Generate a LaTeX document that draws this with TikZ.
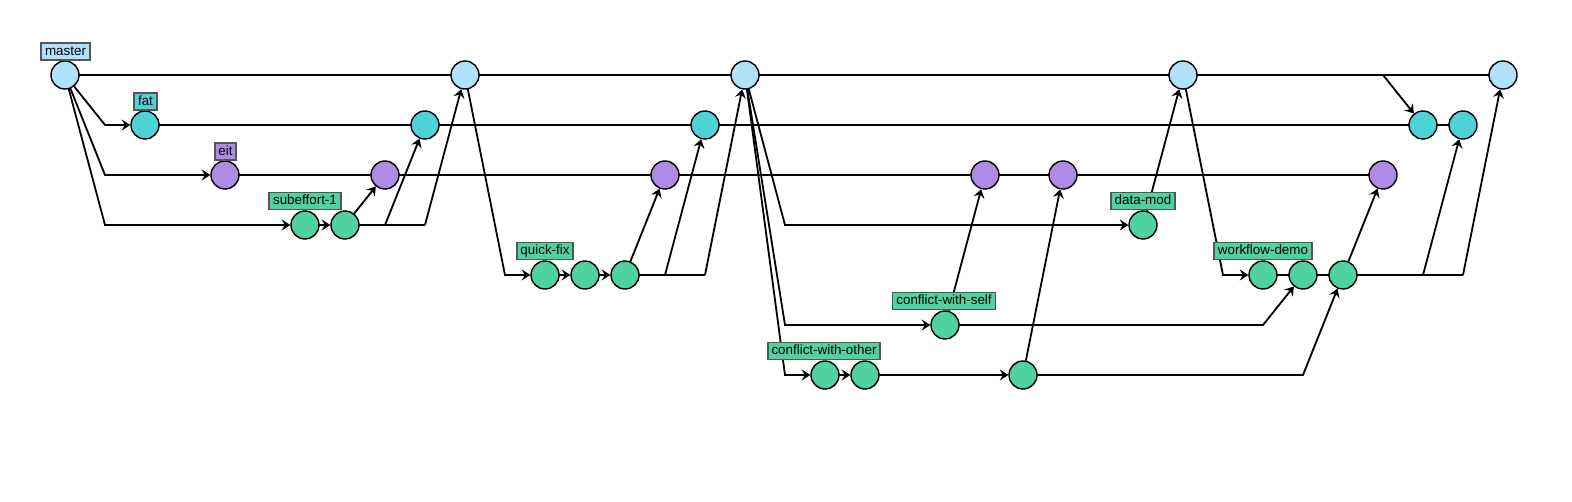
\documentclass[tikz,border=0pt]{standalone}
\usepackage{fontspec}
\setmainfont{Liberation Sans}
\usetikzlibrary{arrows.meta}
\pgfdeclarelayer{bg}
\pgfsetlayers{bg,main}
\definecolor{cmaster}{HTML}{B2E2FA}
\definecolor{cfat}{HTML}{4DD3D6}
\definecolor{ceit}{HTML}{AE8CE6}
\definecolor{cgreen}{HTML}{4FD1A0}
\definecolor{cframe}{HTML}{555555}
\tikzset{
  commit/.style={circle,draw=black,line width=1.4pt,minimum size=28pt,inner sep=0pt},
  blabel/.style={rectangle,draw=cframe,line width=1.8pt,inner xsep=3.8pt,inner ysep=0pt,minimum height=17pt,font=\fontsize{13.4pt}{15pt}\selectfont,text height=9.8pt,text depth=2.6pt},
  link/.style={draw=black,line width=1.8pt},
  mlink/.style={link,-{Stealth[length=8.5pt,width=11pt,inset=3pt]}},
}
\begin{document}
\begin{tikzpicture}[x=1pt,y=-1pt]
\useasboundingbox (0,0) rectangle (1572,502);
% master
\node[commit,fill=cmaster] (m0) at (65,75) {};
\node[commit,fill=cmaster] (m1) at (465,75) {};
\node[commit,fill=cmaster] (m2) at (745,75) {};
\node[commit,fill=cmaster] (m3) at (1183,75) {};
\node[commit,fill=cmaster] (m4) at (1503,75) {};
% fat
\node[commit,fill=cfat] (f0) at (145,125) {};
\node[commit,fill=cfat] (f1) at (425,125) {};
\node[commit,fill=cfat] (f2) at (705,125) {};
\node[commit,fill=cfat] (f3) at (1423,125) {};
\node[commit,fill=cfat] (f4) at (1463,125) {};
% eit
\node[commit,fill=ceit] (e0) at (225,175) {};
\node[commit,fill=ceit] (e1) at (385,175) {};
\node[commit,fill=ceit] (e2) at (665,175) {};
\node[commit,fill=ceit] (e3) at (985,175) {};
\node[commit,fill=ceit] (e4) at (1063,175) {};
\node[commit,fill=ceit] (e5) at (1383,175) {};
% subeffort-1
\node[commit,fill=cgreen] (s1) at (305,225) {};
\node[commit,fill=cgreen] (s2) at (345,225) {};
% quick-fix
\node[commit,fill=cgreen] (q1) at (545,275) {};
\node[commit,fill=cgreen] (q2) at (585,275) {};
\node[commit,fill=cgreen] (q3) at (625,275) {};
% data-mod
\node[commit,fill=cgreen] (d1) at (1143,225) {};
% conflict-with-self
\node[commit,fill=cgreen] (cs1) at (945,325) {};
% conflict-with-other
\node[commit,fill=cgreen] (co1) at (825,375) {};
\node[commit,fill=cgreen] (co2) at (865,375) {};
\node[commit,fill=cgreen] (co3) at (1023,375) {};
% workflow-demo
\node[commit,fill=cgreen] (w1) at (1263,275) {};
\node[commit,fill=cgreen] (w2) at (1303,275) {};
\node[commit,fill=cgreen] (w3) at (1343,275) {};
% labels
\node[blabel,fill=cmaster] (lm) at (65.5,51.5) {master};
\node[blabel,fill=cfat] (lf) at (145.5,101.5) {fat};
\node[blabel,fill=ceit] (le) at (225.5,151.5) {eit};
\node[blabel,fill=cgreen] (ls) at (305,201) {subeffort-1};
\node[blabel,fill=cgreen] (lq) at (545,251) {quick-fix};
\node[blabel,fill=cgreen] (lcs) at (944,301) {conflict-with-self};
\node[blabel,fill=cgreen] (lco) at (824,351) {conflict-with-other};
\node[blabel,fill=cgreen] (ld) at (1143,201) {data-mod};
\node[blabel,fill=cgreen] (lw) at (1263,251) {workflow-demo};
% bend coordinates
\coordinate (bf0) at (105,125);
\coordinate (be0) at (105,175);
\coordinate (bs0) at (105,225);
\coordinate (bs3) at (385,225);
\coordinate (bs4) at (425,225);
\coordinate (bq0) at (505,275);
\coordinate (bq4) at (665,275);
\coordinate (bq5) at (705,275);
\coordinate (bd0) at (785,225);
\coordinate (bcs0) at (785,325);
\coordinate (bco0) at (785,375);
\coordinate (bcs2) at (1263,325);
\coordinate (bco4) at (1303,375);
\coordinate (bw0) at (1223,275);
\coordinate (bw4) at (1423,275);
\coordinate (bw5) at (1463,275);
\coordinate (bm5) at (1383,75);
\begin{pgfonlayer}{bg}
% branch lines
\draw[link] (m0.center) -- (m1.center) -- (m2.center) -- (m3.center) -- (m4.center);
\draw[link] (f0.center) -- (f1.center) -- (f2.center) -- (f3.center) -- (f4.center);
\draw[link] (e0.center) -- (e1.center) -- (e2.center) -- (e3.center) -- (e4.center) -- (e5.center);
\draw[link] (w1.center) -- (w2.center) -- (w3.center) -- (bw5);
% branch-offs
\draw[mlink] (m0.center) -- (bf0) -- (f0);
\draw[mlink] (m0.center) -- (be0) -- (e0);
\draw[mlink] (m0.center) -- (bs0) -- (s1);
\draw[mlink] (s1.center) -- (s2);
\draw[mlink] (s2) -- (e1);
\draw[link] (s2.center) -- (bs4);
\draw[mlink] (bs3) -- (f1);
\draw[mlink] (bs4) -- (m1);
\draw[mlink] (m1.center) -- (bq0) -- (q1);
\draw[mlink] (q1.center) -- (q2);
\draw[mlink] (q2.center) -- (q3);
\draw[mlink] (q3) -- (e2);
\draw[link] (q3.center) -- (bq5);
\draw[mlink] (bq4) -- (f2);
\draw[mlink] (bq5) -- (m2);
\draw[mlink] (m2.center) -- (bd0) -- (d1);
\draw[mlink] (d1) -- (m3);
\draw[mlink] (m2.center) -- (bcs0) -- (cs1);
\draw[mlink] (cs1) -- (e3);
\draw[mlink] (cs1.center) -- (bcs2) -- (w2);
\draw[mlink] (m2.center) -- (bco0) -- (co1);
\draw[mlink] (co1.center) -- (co2);
\draw[mlink] (co2.center) -- (co3);
\draw[mlink] (co3) -- (e4);
\draw[mlink] (co3.center) -- (bco4) -- (w3);
\draw[mlink] (m3.center) -- (bw0) -- (w1);
\draw[mlink] (w3) -- (e5);
\draw[mlink] (bw4) -- (f4);
\draw[mlink] (bw5) -- (m4);
\draw[mlink] (bm5) -- (f3);
\end{pgfonlayer}
\end{tikzpicture}
\end{document}
